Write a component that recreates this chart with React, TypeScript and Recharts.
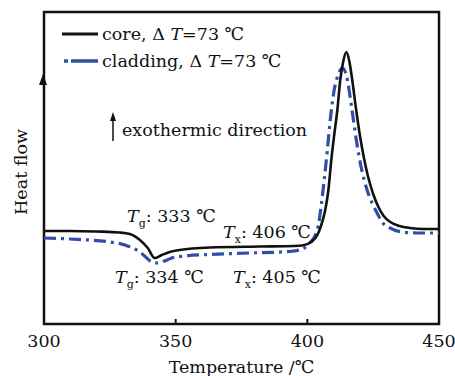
import React from "react";
import { LineChart, Line, XAxis, YAxis, ReferenceArea, Label } from "recharts";

// temperature (°C) / heat flow (a.u.)
const coreTemp = [300, 309.8, 320.1, 328.8, 332.6, 336.4, 339.4, 342.0, 344.7, 347.7, 351.5, 362.9, 381.8, 395, 398.1, 401.5, 403.8, 405.3, 406.8, 408.0, 409.1, 410.2, 411.4, 412.5, 413.6, 414.8, 416, 417, 418.5, 420, 421.5, 423, 425, 427, 429, 431.5, 435, 439, 444, 450];
const coreHeat = [0.93, 0.93, 0.925, 0.915, 0.9, 0.84, 0.76, 0.66, 0.69, 0.72, 0.74, 0.765, 0.775, 0.78, 0.785, 0.82, 0.89, 0.99, 1.14, 1.34, 1.64, 1.89, 2.14, 2.44, 2.62, 2.72, 2.62, 2.45, 2.15, 1.88, 1.66, 1.48, 1.3, 1.17, 1.08, 1.02, 0.98, 0.96, 0.95, 0.95];

const cladTemp = [300, 309.8, 325, 330.7, 336.4, 339, 340.9, 343.2, 345.8, 348.5, 353.4, 362.9, 378, 393.2, 397, 398.9, 400.8, 402.7, 404.2, 405.3, 406.4, 407.6, 408.7, 410.2, 411.7, 413.3, 414.8, 416.7, 418.6, 420.5, 422.7, 424.6, 426.5, 428.4, 432.2, 436, 442.4, 450];
const cladHeat = [0.86, 0.85, 0.82, 0.79, 0.72, 0.66, 0.62, 0.61, 0.63, 0.66, 0.68, 0.695, 0.71, 0.725, 0.74, 0.76, 0.81, 0.87, 0.99, 1.19, 1.44, 1.74, 2.04, 2.34, 2.49, 2.56, 2.49, 2.19, 1.84, 1.56, 1.34, 1.21, 1.11, 1.02, 0.95, 0.92, 0.91, 0.91];

const xTicks = [300, 350, 400, 450];

const coreData = coreTemp.map((t, i) => ({ t, v: coreHeat[i] }));
const cladData = cladTemp.map((t, i) => ({ t, v: cladHeat[i] }));

const FONT = "'DejaVu Serif', 'Liberation Serif', serif";
const FS = 17.5;
const BLUE = "#2f50a6";

function Sub({ letter, sub, rest, x, y }: { letter: string; sub: string; rest: string; x: number; y: number }) {
  return (
    <text x={x} y={y} fontSize={FS} fontFamily={FONT} fill="#111">
      <tspan fontStyle="italic">{letter}</tspan>
      <tspan fontSize={11} dy={5}>{sub}</tspan>
      <tspan dy={-5}>{rest}</tspan>
    </text>
  );
}

export default function App() {
  return (
    <div style={{ position: "absolute", left: 0, top: 0, width: 455, height: 376, background: "#fff" }}>
      <LineChart
        width={455}
        height={376}
        margin={{ top: 12, right: 16, left: 44, bottom: 0 }}
        style={{ fontFamily: FONT }}
      >
        <XAxis
          dataKey="t"
          type="number"
          domain={[300, 450]}
          ticks={xTicks}
          allowDataOverflow
          height={52}
          axisLine={false}
          tickSize={-5}
          tickMargin={16}
          tickLine={{ stroke: "#111", strokeWidth: 2 }}
          tick={{ fill: "#111", fontSize: FS, fontFamily: FONT }}
        >
          <Label value="Temperature /℃" position="insideBottom" offset={3} fill="#111" fontSize={FS} fontFamily={FONT} />
        </XAxis>
        <YAxis type="number" domain={[0, 3.12]} hide allowDataOverflow />
        <ReferenceArea x1={300} x2={450} y1={0} y2={3.12} fill="none" stroke="#111" strokeWidth={2.5} />
        <Line
          data={cladData}
          dataKey="v"
          type="monotone"
          stroke={BLUE}
          strokeWidth={3.2}
          strokeDasharray="12 5 3 5"
          dot={false}
          isAnimationActive={false}
        />
        <Line
          data={coreData}
          dataKey="v"
          type="monotone"
          stroke="#111"
          strokeWidth={2.6}
          dot={false}
          isAnimationActive={false}
        />
      </LineChart>
      <svg width={455} height={376} style={{ position: "absolute", left: 0, top: 0, pointerEvents: "none" }}>
        {/* legend */}
        <line x1={62} x2={98} y1={34} y2={34} stroke="#111" strokeWidth={3} />
        <text x={102} y={40} fontSize={FS} fontFamily={FONT} fill="#111">
          core, Δ <tspan fontStyle="italic">T</tspan>=73 ℃
        </text>
        <line x1={64} x2={98} y1={61} y2={61} stroke={BLUE} strokeWidth={3.5} strokeDasharray="4 3 27" />
        <text x={102} y={67} fontSize={FS} fontFamily={FONT} fill="#111">
          cladding, Δ <tspan fontStyle="italic">T</tspan>=73 ℃
        </text>
        {/* y axis arrow and title */}
        <polygon points="43,74 39,85 47,85" fill="#111" />
        <text transform="translate(27,172) rotate(-90)" textAnchor="middle" fontSize={FS} fontFamily={FONT} fill="#111">
          Heat flow
        </text>
        {/* exothermic direction */}
        <line x1={113} x2={113} y1={141} y2={118} stroke="#111" strokeWidth={1.5} />
        <polygon points="113,112 110,121 116,121" fill="#111" />
        <text x={122} y={136} fontSize={FS} fontFamily={FONT} fill="#111">exothermic direction</text>
        {/* annotations */}
        <Sub letter="T" sub="g" rest=": 333 ℃" x={127} y={222} />
        <Sub letter="T" sub="g" rest=": 334 ℃" x={115} y={283} />
        <Sub letter="T" sub="x" rest=": 406 ℃" x={223} y={238} />
        <Sub letter="T" sub="x" rest=": 405 ℃" x={233} y={283} />
      </svg>
    </div>
  );
}
